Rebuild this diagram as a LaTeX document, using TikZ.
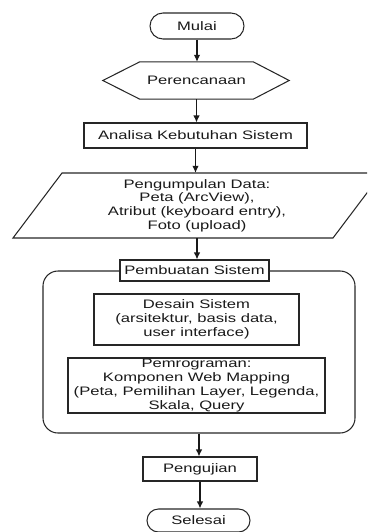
\documentclass[tikz,border=0pt]{standalone}
\usepackage{fontspec}
\setmainfont{Liberation Sans}[FakeStretch=1.35]
\usetikzlibrary{arrows.meta,calc}
\begin{document}
\begin{tikzpicture}[x=1pt,y=-1pt,
  every node/.style={font=\fontsize{12.3}{13.7}\selectfont, align=center, inner sep=0pt, text=black!90},
  box/.style={draw=black!85, line width=1.05pt},
  arr/.style={draw=black!90, line width=1.1pt, -{Latex[length=7pt,width=6.5pt]}}]
\useasboundingbox (0,0) rectangle (367,532);
\begin{scope}
\clip (0,0) rectangle (367,532);
\node[box, rounded corners=13pt, minimum width=94pt, minimum height=26pt] (mulai) at (197,26) {Mulai};
\node[minimum width=113pt, minimum height=37pt] (plan) at (196.5,80.5) {Perencanaan};
\draw[box] (plan.north west) -- (plan.north east) -- ($(plan.east)+(36,0)$) -- (plan.south east) -- (plan.south west) -- ($(plan.west)+(-37,0)$) -- cycle;
\node[box, minimum width=223pt, minimum height=25pt] (anal) at (195.5,135.5) {Analisa Kebutuhan Sistem};
\node[minimum width=270pt, minimum height=65pt] (data) at (197,205.5) {Pengumpulan Data:\\Peta (ArcView),\\Atribut (keyboard entry),\\Foto (upload)};
\draw[box] (13,238) -- (62,173) -- (382,173) -- (333,238) -- cycle;
\node[box, rounded corners=15pt, minimum width=312pt, minimum height=162pt] (sys) at (199,352) {};
\node[box, fill=white, minimum width=149pt, minimum height=21pt] (pemb) at (194.5,270.5) {Pembuatan Sistem};
\node[box, minimum width=205pt, minimum height=51pt] (desain) at (196.5,319.5) {Desain Sistem\\(arsitektur, basis data,\\user interface)};
\node[box, minimum width=257pt, minimum height=55pt] (prog) at (196.5,385.5) {Pemrograman:\\Komponen Web Mapping\\(Peta, Pemilihan Layer, Legenda,\\Skala, Query};
\node[box, minimum width=114pt, minimum height=24pt] (uji) at (200,469) {Pengujian};
\node[box, rounded corners=11.5pt, minimum width=103pt, minimum height=23pt] (sel) at (198.5,520.5) {Selesai};
\draw[arr] (mulai.south) -- (mulai.south |- plan.north);
\draw[arr] (plan.south) -- (plan.south |- anal.north);
\draw[arr] (anal.south) -- (anal.south |- data.north);
\draw[arr] (data.south) -- (data.south |- pemb.north);
\draw[arr] (sys.south) -- (sys.south |- uji.north);
\draw[arr] (uji.south) -- (uji.south |- sel.north);
\end{scope}
\end{tikzpicture}
\end{document}
